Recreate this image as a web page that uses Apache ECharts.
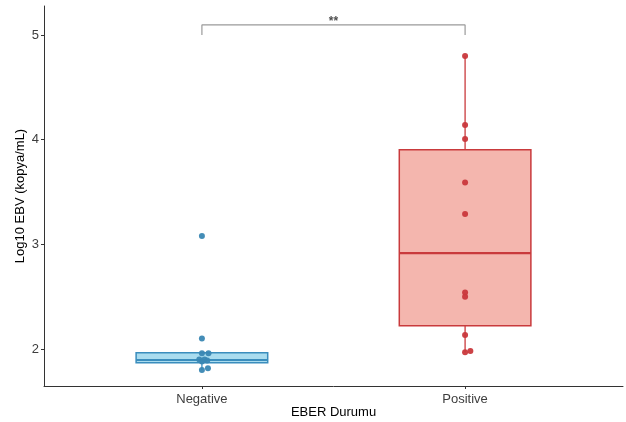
<!DOCTYPE html>
<html><head><meta charset="utf-8">
<script src="https://cdn.jsdelivr.net/npm/echarts@6/dist/echarts.min.js"></script>
<style>html,body{margin:0;padding:0;background:#fff}#c{width:626px;height:422px}</style>
</head><body><div id="c"></div>
<script>
const categories = ['Negative', 'Positive'];
const categoryPos = [1, 2];
const yTicks = [2, 3, 4, 5];
// box stats: [min, Q1, median, Q3, max]
const negBox = [1.80, 1.869, 1.895, 1.965, 1.965];
const posBox = [1.968, 2.223, 2.916, 3.904, 4.80];
// points: x position (1 = Negative, 2 = Positive, jittered) and value
const negX = [1.0, 1.0, 1.0, 1.025, 0.99, 1.01, 1.02, 1.0, 1.0, 1.023];
const negY = [3.08, 2.10, 1.96, 1.96, 1.90, 1.90, 1.89, 1.88, 1.80, 1.815];
const posX = [2.0, 2.0, 2.0, 2.0, 2.0, 2.0, 2.0, 2.0, 2.0, 2.02];
const posY = [4.80, 4.14, 4.007, 3.59, 3.29, 2.539, 2.50, 2.134, 1.968, 1.98];
const bracketX = [1, 1, 2, 2];
const bracketY = [5.0, 5.096, 5.096, 5.0];
const sigLabel = '**';

const boxColors = [
  {fill: '#a9dcef', stroke: '#3a8dbd'},
  {fill: '#f4b6ae', stroke: '#c93a3c'}
];

function renderBox(params, api) {
  const x = api.value(0);
  const mn = api.value(1), q1 = api.value(2), md = api.value(3), q3 = api.value(4), mx = api.value(5);
  const halfW = 0.25;
  const pL = api.coord([x - halfW, q3]);
  const pR = api.coord([x + halfW, q1]);
  const pMin = api.coord([x, mn]);
  const pMax = api.coord([x, mx]);
  const pQ1 = api.coord([x, q1]);
  const pQ3 = api.coord([x, q3]);
  const pMd = api.coord([x, md]);
  const c = boxColors[params.dataIndex];
  return {
    type: 'group',
    children: [
      {type: 'line', shape: {x1: pMax[0], y1: pMax[1], x2: pQ3[0], y2: pQ3[1]}, style: {stroke: c.stroke, lineWidth: 1.3}},
      {type: 'line', shape: {x1: pMin[0], y1: pMin[1], x2: pQ1[0], y2: pQ1[1]}, style: {stroke: c.stroke, lineWidth: 1.3}},
      {type: 'rect', shape: {x: pL[0], y: pL[1], width: pR[0] - pL[0], height: pR[1] - pL[1]}, style: {fill: c.fill, stroke: c.stroke, lineWidth: 1.5}},
      {type: 'line', shape: {x1: pL[0], y1: pMd[1], x2: pR[0], y2: pMd[1]}, style: {stroke: c.stroke, lineWidth: 2.2}}
    ]
  };
}

const chart = echarts.init(document.getElementById('c'));
const font = 'Liberation Sans, Arial, sans-serif';
chart.setOption({
  animation: false,
  grid: {left: 44, right: 3, top: 6, bottom: 36, containLabel: false, outerBoundsMode: 'none'},
  xAxis: {
    type: 'value', min: 0.4, max: 2.6,
    splitLine: {show: false},
    axisLine: {show: true, lineStyle: {color: '#333', width: 1}},
    axisTick: {show: true, customValues: categoryPos, length: 3, lineStyle: {color: '#333'}},
    axisLabel: {customValues: categoryPos, formatter: v => categories[Math.round(v) - 1], color: '#3d3d3d', fontSize: 13, fontFamily: font, margin: 7},
    name: 'EBER Durumu', nameLocation: 'middle', nameGap: 20, nameMoveOverlap: false,
    nameTextStyle: {color: '#000', fontSize: 13, fontFamily: font}
  },
  yAxis: {
    type: 'value', min: 1.6465, max: 5.277,
    splitLine: {show: false},
    axisLine: {show: true, lineStyle: {color: '#333', width: 1}},
    axisTick: {show: true, customValues: yTicks, length: 3, lineStyle: {color: '#333'}},
    axisLabel: {customValues: yTicks, color: '#3d3d3d', fontSize: 13, fontFamily: font, margin: 5},
    name: 'Log10 EBV (kopya/mL)', nameLocation: 'middle', nameGap: 17, nameRotate: 90, nameMoveOverlap: false,
    nameTextStyle: {color: '#000', fontSize: 13, fontFamily: font}
  },
  series: [
    {
      type: 'custom', renderItem: renderBox, z: 2,
      encode: {x: 0, y: [1, 2, 3, 4, 5]},
      data: [[categoryPos[0]].concat(negBox), [categoryPos[1]].concat(posBox)]
    },
    {
      type: 'scatter', symbolSize: 6, z: 5,
      itemStyle: {color: '#3a87b3', opacity: 0.95},
      data: negX.map((x, i) => [x, negY[i]])
    },
    {
      type: 'scatter', symbolSize: 6, z: 5,
      itemStyle: {color: '#c9383c', opacity: 0.95},
      data: posX.map((x, i) => [x, posY[i]])
    },
    {
      type: 'line', symbol: 'none', z: 3,
      lineStyle: {color: '#9a9a9a', width: 1.2},
      data: bracketX.map((x, i) => [x, bracketY[i]])
    },
    {
      type: 'scatter', symbolSize: 0, z: 6,
      label: {show: true, position: 'top', distance: -3, formatter: sigLabel, color: '#222', fontSize: 12, fontWeight: 'bold', fontFamily: font},
      data: [[1.5, bracketY[1]]]
    }
  ]
});
</script></body></html>
